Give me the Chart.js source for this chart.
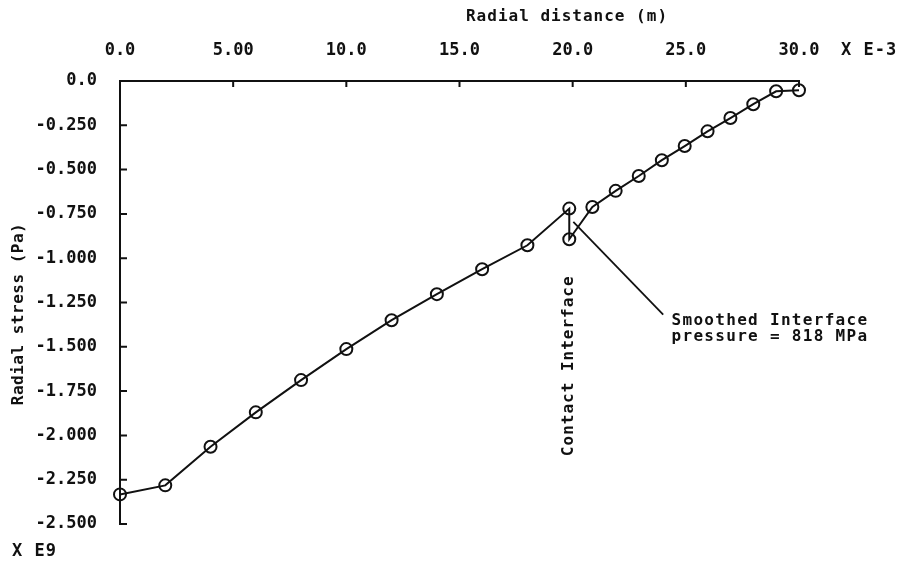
<!DOCTYPE html>
<html>
<head>
<meta charset="utf-8">
<script src="https://cdn.jsdelivr.net/npm/chart.js@4.4.1/dist/chart.umd.min.js"></script>
<style>
  html, body { margin: 0; padding: 0; background: #fff; }
</style>
</head>
<body>
<canvas id="stressChart" width="910" height="568"></canvas>
<script>
// radial position (x 1e-3 m) and radial stress (x 1e9 Pa)
const radius = [0, 2, 4, 6, 8, 10, 12, 14, 16, 18, 19.85, 19.85, 20.87, 21.9, 22.92, 23.94, 24.95, 25.96, 26.97, 27.98, 28.99, 30.0]
const stress = [-2.333, -2.282, -2.064, -1.870, -1.688, -1.513, -1.350, -1.203, -1.062, -0.927, -0.720, -0.893, -0.711, -0.620, -0.536, -0.447, -0.367, -0.284, -0.209, -0.131, -0.058, -0.052]

const xTicks = [0, 5, 10, 15, 20, 25, 30]
const xTickLabels = ['0.0', '5.00', '10.0', '15.0', '20.0', '25.0', '30.0']
const yTicks = [-2.5, -2.25, -2.0, -1.75, -1.5, -1.25, -1.0, -0.75, -0.5, -0.25, 0]
const yTickLabels = ['-2.500', '-2.250', '-2.000', '-1.750', '-1.500', '-1.250', '-1.000', '-0.750', '-0.500', '-0.250', '0.0']

const ink = '#111'
const mono = "'DejaVu Sans Mono', monospace"

// tick marks point into the plot, plus all the loose text
const plotDecor = {
  id: 'plotDecor',
  afterDraw(chart) {
    const { ctx, chartArea, scales: { x, y } } = chart
    ctx.save()
    ctx.strokeStyle = ink
    ctx.lineWidth = 2
    ctx.beginPath()
    xTicks.forEach(v => {
      const px = x.getPixelForValue(v)
      ctx.moveTo(px, chartArea.top)
      ctx.lineTo(px, chartArea.top + 6)
    })
    yTicks.forEach(v => {
      const py = y.getPixelForValue(v)
      ctx.moveTo(chartArea.left, py)
      ctx.lineTo(chartArea.left + 7, py)
    })
    ctx.stroke()

    ctx.fillStyle = ink
    ctx.font = 'bold 16px ' + mono

    // axis titles and multipliers
    ctx.letterSpacing = '1px'
    ctx.textAlign = 'center'
    ctx.textBaseline = 'middle'
    ctx.fillText('Radial distance (m)', 567, 17)
    ctx.textAlign = 'left'
    ctx.font = 'bold 17px ' + mono
    ctx.fillText('X E-3', 841, 51)
    ctx.fillText('X E9', 12, 552)
    ctx.font = 'bold 16px ' + mono

    ctx.save()
    ctx.letterSpacing = '0.5px'
    ctx.translate(19, 314)
    ctx.rotate(-Math.PI / 2)
    ctx.textAlign = 'center'
    ctx.fillText('Radial stress (Pa)', 0, 0)
    ctx.restore()

    // interface label, rotated
    ctx.save()
    ctx.letterSpacing = '1px'
    ctx.translate(x.getPixelForValue(19.85), y.getPixelForValue(-2.117))
    ctx.rotate(-Math.PI / 2)
    ctx.textAlign = 'left'
    ctx.fillText('Contact Interface', 0, 0)
    ctx.restore()

    // leader line to the smoothed pressure note
    ctx.lineWidth = 1.8
    ctx.beginPath()
    ctx.moveTo(x.getPixelForValue(20.03), y.getPixelForValue(-0.795))
    ctx.lineTo(x.getPixelForValue(24.0), y.getPixelForValue(-1.318))
    ctx.stroke()

    ctx.letterSpacing = '1.3px'
    ctx.textAlign = 'left'
    const tx = x.getPixelForValue(24.37)
    ctx.fillText('Smoothed Interface', tx, y.getPixelForValue(-1.355))
    ctx.fillText('pressure = 818 MPa', tx, y.getPixelForValue(-1.446))
    ctx.restore()
  }
}

const ctx = document.getElementById('stressChart').getContext('2d')

const stressChart = new Chart(ctx, {
  type: 'line',
  data: {
    datasets: [{
      data: radius.map((r, i) => ({ x: r, y: stress[i] })),
      borderColor: ink,
      borderWidth: 2,
      tension: 0,
      pointRadius: 6,
      pointBorderWidth: 2,
      pointBorderColor: ink,
      pointBackgroundColor: 'rgba(0,0,0,0)',
      clip: false
    }]
  },
  options: {
    responsive: false,
    animation: false,
    layout: { padding: { top: 0, right: 111, bottom: 44, left: 0 } },
    plugins: {
      legend: { display: false },
      tooltip: { enabled: false }
    },
    scales: {
      x: {
        type: 'linear',
        position: 'top',
        min: 0,
        max: 30,
        afterBuildTicks: scale => { scale.ticks = xTicks.map(v => ({ value: v })) },
        afterFit: scale => { scale.height = 81 },
        grid: { drawOnChartArea: false, drawTicks: false },
        border: { display: true, color: ink, width: 2 },
        ticks: {
          padding: 20,
          color: ink,
          maxRotation: 0,
          font: { family: mono, size: 17, weight: 'bold' },
          callback: (v, i) => xTickLabels[i]
        }
      },
      y: {
        type: 'linear',
        min: -2.5,
        max: 0,
        afterBuildTicks: scale => { scale.ticks = yTicks.map(v => ({ value: v })) },
        afterFit: scale => { scale.width = 120 },
        grid: { drawOnChartArea: false, drawTicks: false },
        border: { display: true, color: ink, width: 2 },
        ticks: {
          padding: 23,
          color: ink,
          font: { family: mono, size: 17, weight: 'bold' },
          callback: (v, i) => yTickLabels[i]
        }
      }
    }
  },
  plugins: [plotDecor]
})
</script>
</body>
</html>
